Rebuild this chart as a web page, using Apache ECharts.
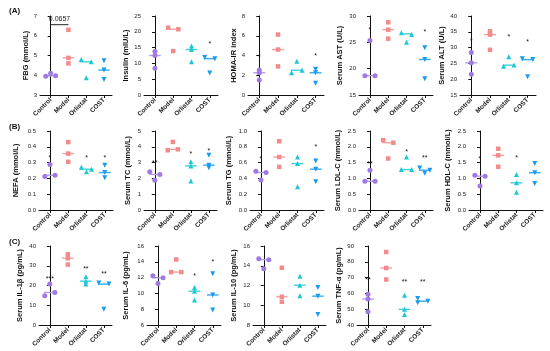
<!DOCTYPE html>
<html><head><meta charset="utf-8">
<script src="https://cdn.jsdelivr.net/npm/echarts@6/dist/echarts.min.js"></script>
<style>html,body{margin:0;padding:0;background:#fff}#c{width:550px;height:351px}</style>
</head><body><div id="c"></div>
<script>
const groups = ['Control','Model','Orlistat','COST'];

// ---- data (values per group: Control, Model, Orlistat, COST) ----
const fbgVals = [[3.95,4.1,3.97],[6.3,4.88,4.6],[4.8,4.68,3.87],[4.73,4.26,3.79]];
const fbgMed = [3.97,4.88,4.68,4.26];
const insVals = [[13.8,12.5,8.5],[21.3,20.8,13.9],[15.5,14.4,10.5],[11.9,11.5,7.0]];
const insMed = [12.5,20.8,14.4,11.5];
const homaVals = [[2.52,2.25,1.51],[6.12,4.6,2.9],[3.43,2.25,2.5],[2.62,2.25,1.18]];
const homaMed = [2.25,4.6,2.5,2.25];
const astVals = [[25.34,18.66,18.66],[28.8,27.4,25.7],[26.8,26.5,25.0],[23.95,21.75,18.1]];
const astMed = [18.66,27.4,26.6,21.75];
const altVals = [[28.45,25.2,21.6],[35.2,34.1,29.3],[27.1,24.1,24.5],[26.5,26.2,20.8]];
const altMed = [25.2,34.1,24.45,26.2];
const nefaVals = [[0.288,0.212,0.22],[0.43,0.357,0.305],[0.271,0.258,0.242],[0.284,0.237,0.204]];
const nefaMed = [0.22,0.357,0.258,0.237];
const tcVals = [[2.42,2.25,1.89],[4.31,3.78,3.84],[3.05,2.79,1.83],[3.47,2.84,2.67]];
const tcMed = [2.25,3.84,2.79,2.84];
const tgVals = [[0.49,0.475,0.38],[0.87,0.67,0.546],[0.67,0.588,0.294],[0.62,0.517,0.357]];
const tgMed = [0.475,0.67,0.588,0.517];
const ldlVals = [[1.26,0.91,0.91],[2.21,2.13,1.63],[1.68,1.28,1.28],[1.33,1.26,1.16]];
const ldlMed = [0.91,2.13,1.28,1.26];
const hdlVals = [[1.1,1.07,0.76],[1.94,1.73,1.37],[1.12,0.86,0.56],[1.47,1.18,0.84]];
const hdlMed = [1.07,1.73,0.86,1.18];
const il1Vals = [[20.7,16.5,14.8],[35.8,33.8,30.6],[24.4,22.2,20.7],[21.3,20.7,8.0]];
const il1Med = [16.5,33.8,22.2,20.7];
const il6Vals = [[12.22,11.97,11.25],[14.3,12.7,12.7],[10.75,10.28,9.15],[12.5,9.8,7.9]];
const il6Med = [11.97,12.7,10.28,9.8];
const il10Vals = [[14.72,14.62,13.7],[13.8,10.86,10.35],[12.94,12.03,10.96],[11.8,10.92,9.07]];
const il10Med = [14.62,10.86,12.03,10.92];
const tnfVals = [[59.5,56.4,48.4],[86.2,76.1,68.8],[58.9,49.9,46.7],[56.8,54.1,55.1]];
const tnfMed = [56.4,76.1,49.9,55.1];

// significance marks: [groupIndex, value, text]
const fbgStars = [];
const insStars = [[3,16,'*']];
const homaStars = [[0,3.8,'*'],[3,3.93,'*']];
const astStars = [[0,27.4,'*'],[3,26.9,'*']];
const altStars = [[0,32,'*'],[2,33.4,'*'],[3,31.6,'*']];
const nefaStars = [[0,0.33,'*'],[2,0.33,'*'],[3,0.33,'*']];
const tcStars = [[0,3.0,'**'],[2,3.57,'*'],[3,3.74,'*']];
const tgStars = [[0,0.64,'*'],[3,0.8,'*']];
const ldlStars = [[0,1.45,'**'],[2,1.84,'*'],[3,1.63,'**']];
const hdlStars = [[0,1.6,'*'],[2,1.63,'*']];
const il1Stars = [[0,23.5,'***'],[2,28.2,'**'],[3,26,'**']];
const il6Stars = [[2,12.2,'*'],[3,14,'*']];
const il10Stars = [];
const tnfStars = [[0,68.4,'**'],[2,67.3,'**'],[3,66.9,'**']];

// bracket with p-value in FBG panel
const fbgBracketGroups = [0, 1];
const fbgBracketLevel = 6.56;
const fbgBracketText = '0.0657';

// ---- layout / style ----
const colors = ['#9d7be3','#f48b8b','#1cc7d6','#1b9bef'];
const lineColors = ['#b59cec','#f5a0a0','#3fd0dd','#3aa9f0'];
const symbols = ['circle','rect','triangle','triangle'];
const symRot = [0,0,0,180];
const FONT = 'Arial, "Liberation Sans", sans-serif';

const panels = [
 {vals:fbgVals, med:fbgMed, stars:fbgStars, name:'FBG (mmol/L)', y:[3,7,1], dec:0, left:40, top:16, w:72, gap:10,
  jit:[[-1,0,1],[0,0,0],[-1,1,0],[0,0,0]]},
 {vals:insVals, med:insMed, stars:insStars, name:'Insulin (mIU/L)', y:[0,25,5], dec:0, left:144, top:16, w:74, gap:13,
  jit:[[0,0,0],[-1,1,0],[0,0,0],[-1,1,0]]},
 {vals:homaVals, med:homaMed, stars:homaStars, name:'HOMA-IR index', y:[0,8,2], dec:0, left:248, top:16, w:76, gap:10,
  jit:[[0,0,0],[0,0,0],[0,-1,1],[0,0,0]]},
 {vals:astVals, med:astMed, stars:astStars, name:'Serum AST (U/L)', y:[15,30,5], dec:0, left:359, top:16, w:74, gap:15,
  jit:[[0,-1,1],[0,0,0],[-1,1,0],[0,0,0]]},
 {vals:altVals, med:altMed, stars:altStars, name:'Serum ALT (U/L)', y:[15,40,5], dec:0, left:460, top:16, w:76, gap:13,
  jit:[[0,0,0],[0,0,0],[0,-1,1],[-1,1,0]]},
 {vals:nefaVals, med:nefaMed, stars:nefaStars, name:'NEFA (mmol/L)', y:[0,0.5,0.1], dec:1, left:39, top:131, w:74, gap:19,
  jit:[[0,-1,1],[0,0,0],[-1,1,0],[0,0,0]]},
 {vals:tcVals, med:tcMed, stars:tcStars, name:'Serum TC (mmol/L)', y:[0,5,1], dec:0, left:144, top:131, w:73, gap:12,
  jit:[[-1,1,0],[0,-1,1],[0,0,0],[0,0,0]]},
 {vals:tgVals, med:tgMed, stars:tgStars, name:'Serum TG (mmol/L)', y:[0,1,0.2], dec:1, left:250, top:131, w:74, gap:17,
  jit:[[-1,1,0],[0,0,0],[0,0,0],[0,0,0]]},
 {vals:ldlVals, med:ldlMed, stars:ldlStars, name:'Serum LDL-C (mmol/L)', y:[0,2.5,0.5], dec:1, left:359, top:131, w:74, gap:17,
  jit:[[0,-1,1],[-1,1,0],[0,-1,1],[-1,1,0]]},
 {vals:hdlVals, med:hdlMed, stars:hdlStars, name:'Serum HDL-C (mmol/L)', y:[0,2.5,0.5], dec:1, left:469, top:131, w:74, gap:17,
  jit:[[-1,1,0],[0,0,0],[0,0,0],[0,0,0]]},
 {vals:il1Vals, med:il1Med, stars:il1Stars, name:'Serum IL-1β (pg/mL)', y:[0,40,10], dec:0, left:39, top:246, w:73, gap:15,
  jit:[[0,1,-1],[0,0,0],[0,0,0],[-1,1,0]]},
 {vals:il6Vals, med:il6Med, stars:il6Stars, name:'Serum IL-6 (pg/mL)', y:[6,16,2], dec:0, left:147, top:246, w:74, gap:17,
  jit:[[-1,1,0],[0,-1,1],[0,0,0],[0,0,0]]},
 {vals:il10Vals, med:il10Med, stars:il10Stars, name:'Serum IL-10 (pg/mL)', y:[8,16,2], dec:0, left:253, top:246, w:73, gap:15,
  jit:[[-1,1,0],[0,0,0],[0,0,0],[0,0,0]]},
 {vals:tnfVals, med:tnfMed, stars:tnfStars, name:'Serum TNF-α (pg/mL)', y:[40,90,10], dec:0, left:357, top:246, w:74, gap:13,
  jit:[[0,0,0],[0,0,0],[0,0,0],[-1,-1,1]]}
];
const PH = 79;
const JIT = 0.28, HALF = 0.32;

const grid=[], xAxis=[], yAxis=[], series=[];
panels.forEach((p,k)=>{
  grid.push({left:p.left, top:p.top, width:p.w, height:PH, containLabel:false});
  xAxis.push({gridIndex:k, type:'value', min:-0.6, max:3.45,
    axisLine:{show:true, onZero:false, lineStyle:{color:'#111', width:1}},
    axisTick:{show:true, customValues:[0,1,2,3], length:3, lineStyle:{color:'#111'}},
    axisLabel:{customValues:[0,1,2,3], formatter:v=>groups[Math.round(v)], rotate:45, fontSize:6.5, fontWeight:'bold', color:'#222', margin:4, fontFamily:FONT},
    splitLine:{show:false}});
  yAxis.push({gridIndex:k, type:'value', min:p.y[0], max:p.y[1], interval:p.y[2],
    name:p.name, nameLocation:'middle', nameGap:p.gap,
    nameTextStyle:{fontSize:7.5, fontWeight:'bold', color:'#111', fontFamily:FONT},
    axisLine:{show:true, lineStyle:{color:'#111', width:1}},
    axisTick:{show:true, length:3, lineStyle:{color:'#111'}},
    axisLabel:{fontSize:6, color:'#222', margin:3, fontFamily:FONT, formatter:v=>v.toFixed(p.dec)},
    splitLine:{show:false}});
  // median lines
  series.push({type:'custom', xAxisIndex:k, yAxisIndex:k, z:2, silent:true, clip:false,
    data:p.med.map((m,i)=>[i,m]),
    renderItem:(params,api)=>{
      const i=api.value(0), v=api.value(1);
      const a=api.coord([i-HALF,v]), b=api.coord([i+HALF,v]);
      return {type:'line', shape:{x1:a[0],y1:a[1],x2:b[0],y2:b[1]}, style:{stroke:lineColors[i], lineWidth:1.4}};
    }});
  // points
  p.vals.forEach((arr,g)=>{
    series.push({type:'scatter', xAxisIndex:k, yAxisIndex:k, z:3, silent:true,
      symbol:symbols[g], symbolRotate:symRot[g], symbolSize:g===1?4.5:5,
      itemStyle:{color:colors[g], opacity:1},
      data:arr.map((v,j)=>[g+p.jit[g][j]*JIT, v])});
  });
  // significance stars
  if(p.stars.length){
    series.push({type:'custom', xAxisIndex:k, yAxisIndex:k, z:4, silent:true, clip:false,
      data:p.stars.map(s=>[s[0],s[1]]),
      renderItem:(params,api)=>{
        const d=p.stars[params.dataIndex];
        const c=api.coord([api.value(0),api.value(1)]);
        return {type:'text', x:c[0], y:c[1], style:{text:d[2], fontSize:7, fontFamily:FONT, fill:'#111', align:'center', verticalAlign:'middle'}};
      }});
  }
});
// bracket line
series.push({type:'line', xAxisIndex:0, yAxisIndex:0, z:5, silent:true, symbol:'none',
  lineStyle:{color:'#222', width:1},
  data:fbgBracketGroups.map(g=>[g, fbgBracketLevel])});
// bracket text
series.push({type:'custom', xAxisIndex:0, yAxisIndex:0, z:5, silent:true, clip:false,
  data:[[(fbgBracketGroups[0]+fbgBracketGroups[1])/2, fbgBracketLevel]],
  renderItem:(params,api)=>{
    const c=api.coord([api.value(0),api.value(1)]);
    return {type:'text', x:c[0], y:c[1]-2, style:{text:fbgBracketText, fontSize:7, fontFamily:FONT, fill:'#222', align:'center', verticalAlign:'bottom'}};
  }});

const option = {
  animation:false,
  backgroundColor:'#fff',
  title:[
    {text:'(A)', left:4, top:2, textStyle:{fontSize:8, fontWeight:'bold', color:'#111', fontFamily:FONT}},
    {text:'(B)', left:4, top:118, textStyle:{fontSize:8, fontWeight:'bold', color:'#111', fontFamily:FONT}},
    {text:'(C)', left:4, top:233, textStyle:{fontSize:8, fontWeight:'bold', color:'#111', fontFamily:FONT}}
  ],
  grid, xAxis, yAxis, series
};
const chart = echarts.init(document.getElementById('c'), null, {renderer:'canvas'});
chart.setOption(option);
</script>
</body></html>
